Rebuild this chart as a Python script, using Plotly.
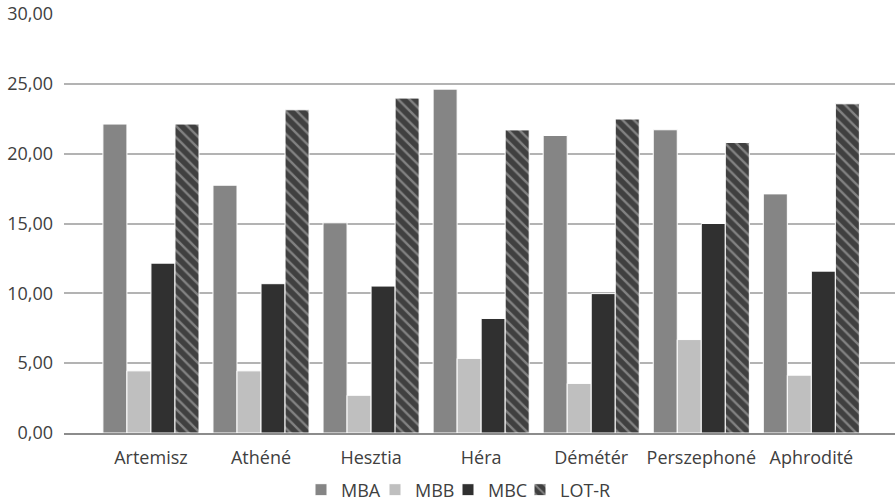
import plotly.graph_objects as go

categories = ["Artemisz", "Athéné", "Hesztia", "Héra", "Démétér", "Perszephoné", "Aphrodité"]
mba = [22.12, 17.74, 15.05, 24.62, 21.30, 21.71, 17.12]
mbb = [4.45, 4.45, 2.70, 5.34, 3.55, 6.69, 4.14]
mbc = [12.16, 10.69, 10.52, 8.20, 9.98, 15.00, 11.59]
lot_r = [22.12, 23.14, 23.98, 21.70, 22.48, 20.80, 23.57]

y_ticks = [0, 5, 10, 15, 20, 25, 30]
y_tick_text = ["0,00", "5,00", "10,00", "15,00", "20,00", "25,00", "30,00"]

font_family = "Open Sans"
text_color = "#404040"
font_size = 18

# legend entry left edges (px) along the bottom row
legend_x = [301, 375, 448, 520]

fig = go.Figure()
fig.add_trace(go.Bar(name="MBA", x=categories, y=mba, legend="legend",
                     marker=dict(color="#858585", line=dict(color="#ffffff", width=1))))
fig.add_trace(go.Bar(name="MBB", x=categories, y=mbb, legend="legend2",
                     marker=dict(color="#bfbfbf", line=dict(color="#ffffff", width=1))))
fig.add_trace(go.Bar(name="MBC", x=categories, y=mbc, legend="legend3",
                     marker=dict(color="#303030", line=dict(color="#ffffff", width=1))))
fig.add_trace(go.Bar(name="LOT-R", x=categories, y=lot_r, legend="legend4",
                     marker=dict(color="#404040", line=dict(color="#ffffff", width=1),
                                 pattern=dict(shape="\\", fgcolor="#c4c4c4", bgcolor="#404040",
                                              size=8, solidity=0.3))))

legend_common = dict(orientation="h", xanchor="left", xref="container",
                     y=0.022, yanchor="middle", yref="container",
                     bgcolor="rgba(0,0,0,0)",
                     font=dict(size=font_size, color=text_color),
                     itemwidth=30, tracegroupgap=0)

fig.update_layout(
    width=895, height=501,
    margin=dict(l=64, r=0, t=14, b=68),
    paper_bgcolor="white", plot_bgcolor="white",
    barmode="group", bargap=0.127, bargroupgap=0,
    font=dict(family=font_family, size=font_size, color=text_color),
    showlegend=True,
    legend=dict(**legend_common, x=legend_x[0] / 895),
    legend2=dict(**legend_common, x=legend_x[1] / 895),
    legend3=dict(**legend_common, x=legend_x[2] / 895),
    legend4=dict(**legend_common, x=legend_x[3] / 895),
)
fig.update_xaxes(range=[-0.79, 6.76], showgrid=False, showline=True,
                 linecolor="#8c8c8c", linewidth=2, ticks="", ticklabelstandoff=7,
                 tickfont=dict(size=font_size, color=text_color))
fig.update_yaxes(range=[0, 30], tickvals=y_ticks, ticktext=y_tick_text,
                 showgrid=True, gridcolor="#b3b3b3", gridwidth=2,
                 zeroline=False, showline=False, ticks="", ticklabelstandoff=10,
                 tickfont=dict(size=font_size, color=text_color))

fig.write_html("out.html")
